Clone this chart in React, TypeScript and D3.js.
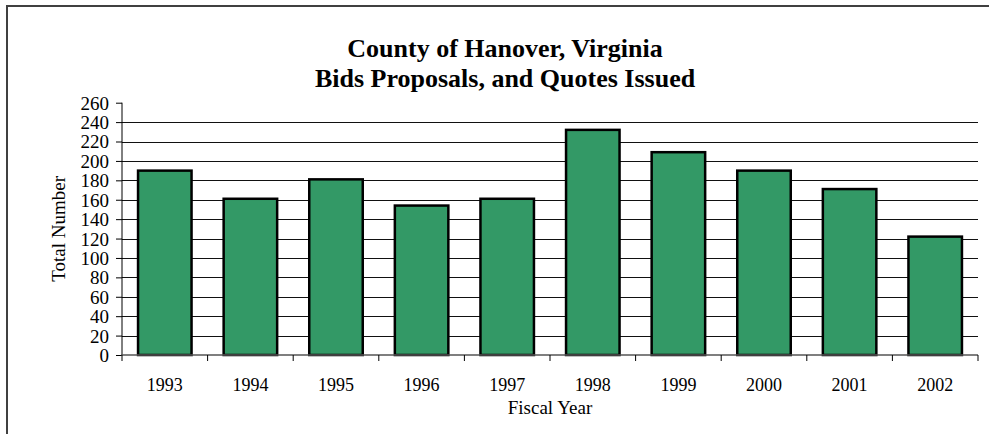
import React, { useEffect, useRef } from 'react';
import * as d3 from 'd3';

const years = ['1993', '1994', '1995', '1996', '1997', '1998', '1999', '2000', '2001', '2002'];
const totals = [190, 161, 181, 154, 161, 232, 209, 190, 171, 122];
const yTicks = [0, 20, 40, 60, 80, 100, 120, 140, 160, 180, 200, 220, 240, 260];
const titleLines = ['County of Hanover, Virginia', 'Bids Proposals, and Quotes Issued'];

const W = 989;
const H = 434;
const FONT = '"Liberation Serif", "Times New Roman", serif';

export default function App() {
  const svgRef = useRef<SVGSVGElement>(null);

  useEffect(() => {
    if (!svgRef.current) return;
    const svg = d3.select(svgRef.current);
    svg.selectAll('*').remove();

    const plot = { left: 122, right: 978, top: 102.7, bottom: 355 };

    const x = d3.scaleBand<string>()
      .domain(years)
      .range([plot.left, plot.right])
      .paddingInner(0.375)
      .paddingOuter(0.1875);

    const y = d3.scaleLinear()
      .domain([0, 260])
      .range([plot.bottom, plot.top]);

    // outer chart frame (runs off the right and bottom of the picture)
    svg.append('rect')
      .attr('x', 7).attr('y', 6)
      .attr('width', 1200).attr('height', 800)
      .attr('fill', 'none')
      .attr('stroke', '#404040')
      .attr('stroke-width', 2);

    // title
    svg.append('g')
      .selectAll('text')
      .data(titleLines)
      .enter()
      .append('text')
      .attr('x', 505)
      .attr('y', (d, i) => 56.5 + i * 30.5)
      .attr('text-anchor', 'middle')
      .attr('font-family', FONT)
      .attr('font-weight', 'bold')
      .attr('font-size', 26)
      .text(d => d);

    // gridlines
    svg.append('g')
      .selectAll('line')
      .data(yTicks.filter(t => t > 0 && t < 260))
      .enter()
      .append('line')
      .attr('x1', plot.left).attr('x2', plot.right)
      .attr('y1', d => Math.round(y(d)) + 0.5)
      .attr('y2', d => Math.round(y(d)) + 0.5)
      .attr('stroke', '#111')
      .attr('stroke-width', 1);

    // bars
    svg.append('g')
      .selectAll('rect')
      .data(totals)
      .enter()
      .append('rect')
      .attr('x', (d, i) => x(years[i]) as number)
      .attr('y', d => y(d))
      .attr('width', x.bandwidth())
      .attr('height', d => plot.bottom - y(d))
      .attr('fill', '#339966')
      .attr('stroke', '#000')
      .attr('stroke-width', 2.5);

    // y axis
    const yAxis = d3.axisLeft(y)
      .tickValues(yTicks)
      .tickSize(6)
      .tickPadding(8)
      .tickFormat(d3.format('d'));
    const gy = svg.append('g')
      .attr('transform', `translate(${plot.left},0)`)
      .call(yAxis);
    gy.select('.domain').attr('stroke', '#000').attr('d', `M0,${plot.top}V${plot.bottom}`);
    gy.selectAll('.tick line').attr('stroke', '#000');
    gy.selectAll('.tick text')
      .attr('font-family', FONT)
      .attr('font-size', 19)
      .attr('fill', '#000')
      .attr('x', -13)
      .attr('dy', '0.34em');

    // x axis: line + ticks at band boundaries
    const gx = svg.append('g');
    gx.append('line')
      .attr('x1', plot.left - 1).attr('x2', plot.right)
      .attr('y1', plot.bottom).attr('y2', plot.bottom)
      .attr('stroke', '#555')
      .attr('stroke-width', 1.5);
    const bounds = d3.range(years.length + 1).map(i => plot.left + i * (plot.right - plot.left) / years.length);
    gx.selectAll('line.tk')
      .data(bounds)
      .enter()
      .append('line')
      .attr('class', 'tk')
      .attr('x1', d => d).attr('x2', d => d)
      .attr('y1', plot.bottom).attr('y2', plot.bottom + 6)
      .attr('stroke', '#000');
    gx.selectAll('text')
      .data(years)
      .enter()
      .append('text')
      .attr('x', d => (x(d) as number) + x.bandwidth() / 2)
      .attr('y', 390.5)
      .attr('text-anchor', 'middle')
      .attr('font-family', FONT)
      .attr('font-size', 18)
      .text(d => d);

    // axis titles
    svg.append('text')
      .attr('x', (plot.left + plot.right) / 2)
      .attr('y', 413.5)
      .attr('text-anchor', 'middle')
      .attr('font-family', FONT)
      .attr('font-size', 19)
      .text('Fiscal Year');

    svg.append('text')
      .attr('transform', `translate(65,${(plot.top + plot.bottom) / 2}) rotate(-90)`)
      .attr('text-anchor', 'middle')
      .attr('font-family', FONT)
      .attr('font-size', 19)
      .text('Total Number');
  }, []);

  return (
    <svg
      ref={svgRef}
      width={W}
      height={H}
      style={{ position: 'absolute', left: 0, top: 0, background: '#fff' }}
    />
  );
}
